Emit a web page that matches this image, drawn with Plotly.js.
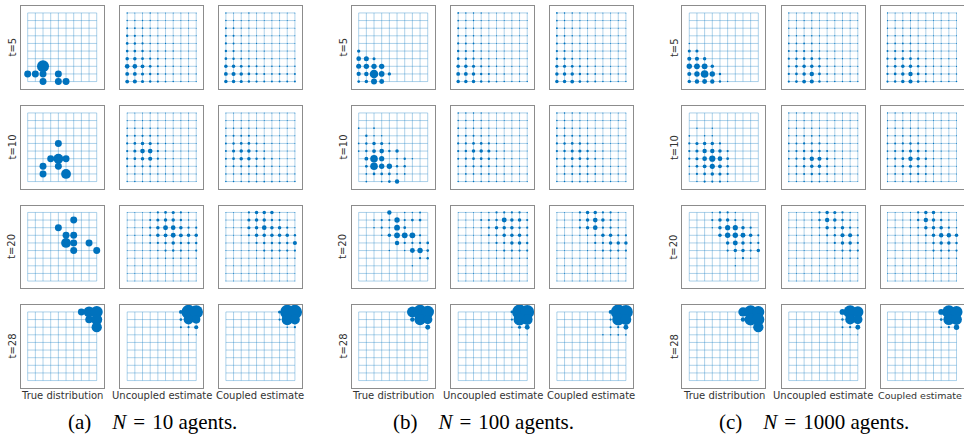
<!DOCTYPE html>
<html><head><meta charset="utf-8">
<script src="https://cdn.plot.ly/plotly-3.0.1.min.js"></script>
<style>html,body{margin:0;padding:0;background:#fff}#chart{width:964px;height:436px}</style>
</head><body><div id="chart"></div>
<script>
// lattice coordinates
const gridVals = [0,1,2,3,4,5,6,7,8,9];
const rowLabels = ["t=5","t=10","t=20","t=28"];
const colLabels = ["True distribution","Uncoupled estimate","Coupled estimate"];
const captionTags = ["(a)","(b)","(c)"];
const agentCounts = [10, 100, 1000];

// Each matrix: rows y=9 (top) ... y=0 (bottom); columns x=0..9; value = probability mass in percent
// ---------- (a) N = 10 ----------
const A_T5_TRUE = [
[0,0,0,0,0,0,0,0,0,0],[0,0,0,0,0,0,0,0,0,0],[0,0,0,0,0,0,0,0,0,0],[0,0,0,0,0,0,0,0,0,0],
[0,0,0,0,0,0,0,0,0,0],[0,0,0,0,0,0,0,0,0,0],[0,0,0,0,0,0,0,0,0,0],
[0,0,30,0,0,0,0,0,0,0],
[10,10,10,0,10,0,0,0,0,0],
[0,0,10,0,10,10,0,0,0,0]];
const A_T5_UNC = [
[0.4,0.2,0.2,0.4,0.2,0.2,0.2,0.2,0.2,0.2],
[0.5,0.4,0.4,0.4,0.2,0.2,0.2,0.2,0.2,0.2],
[0.8,0.6,0.6,0.4,0.3,0.2,0.2,0.2,0.2,0.2],
[1.2,1.0,0.6,0.4,0.3,0.3,0.2,0.2,0.2,0.2],
[1.5,1.2,1.0,0.5,0.4,0.3,0.3,0.2,0.2,0.2],
[1.5,1.5,1.2,0.6,0.5,0.5,0.4,0.2,0.2,0.2],
[2.5,2.5,1.5,1.0,0.6,0.4,0.3,0.3,0.2,0.2],
[4.5,4.5,3.0,1.5,0.8,0.5,0.4,0.3,0.3,0.2],
[3.0,3.0,2.0,1.2,0.8,0.5,0.4,0.3,0.3,0.3],
[3.0,3.5,2.0,1.2,1.0,0.6,0.5,0.4,0.3,0.3]];
const A_T5_CPL = [
[0.4,0.2,0.2,0.4,0.2,0.2,0.2,0.2,0.2,0.2],
[0.5,0.4,0.3,0.3,0.2,0.2,0.2,0.2,0.2,0.2],
[0.8,0.6,0.3,0.3,0.2,0.2,0.2,0.2,0.2,0.2],
[1.0,0.8,0.4,0.3,0.2,0.2,0.2,0.2,0.2,0.2],
[1.0,0.8,0.4,0.3,0.3,0.2,0.2,0.2,0.2,0.2],
[1.2,1.0,0.5,0.4,0.3,0.3,0.2,0.2,0.2,0.2],
[1.5,1.2,0.6,0.5,0.4,0.3,0.3,0.2,0.2,0.3],
[2.5,2.5,1.5,1.0,0.8,0.5,0.5,0.4,0.4,0.5],
[3.0,3.5,2.5,1.5,1.0,0.8,0.6,0.8,0.6,0.8],
[2.5,2.5,2.0,1.2,1.0,0.8,0.8,0.8,0.8,0.8]];
const A_T10_TRUE = [
[0,0,0,0,0,0,0,0,0,0],[0,0,0,0,0,0,0,0,0,0],[0,0,0,0,0,0,0,0,0,0],[0,0,0,0,0,0,0,0,0,0],
[0,0,0,0,10,0,0,0,0,0],
[0,0,0,0,0,0,0,0,0,0],
[0,0,0,10,20,10,0,0,0,0],
[0,0,10,0,10,0,0,0,0,0],
[0,0,10,0,0,20,0,0,0,0],
[0,0,0,0,0,0,0,0,0,0]];
const A_T10_UNC = [
[0.2,0.2,0.2,0.3,0.2,0.2,0.2,0.2,0.2,0.2],
[0.3,0.3,0.3,0.3,0.2,0.2,0.2,0.2,0.2,0.2],
[0.5,0.5,0.5,0.5,0.3,0.2,0.2,0.2,0.2,0.2],
[0.8,0.8,1.0,0.8,0.5,0.3,0.2,0.2,0.2,0.2],
[1.0,1.5,2.5,2.0,0.8,0.4,0.3,0.2,0.2,0.2],
[1.0,2.0,4.5,4.5,1.0,0.5,0.3,0.2,0.2,0.2],
[1.0,1.5,2.5,3.5,1.0,0.5,0.3,0.2,0.2,0.2],
[0.8,0.8,1.0,1.0,0.6,0.4,0.3,0.2,0.2,0.2],
[0.4,0.4,0.5,0.5,0.4,0.3,0.3,0.2,0.2,0.2],
[0.4,0.4,0.4,0.4,0.4,0.3,0.3,0.3,0.2,0.2]];
const A_T10_CPL = [
[0.2,0.2,0.2,0.2,0.2,0.2,0.2,0.2,0.2,0.2],
[0.3,0.3,0.3,0.3,0.2,0.2,0.2,0.2,0.2,0.2],
[0.5,0.5,0.5,0.4,0.3,0.2,0.2,0.2,0.2,0.2],
[0.6,0.8,0.8,0.8,0.4,0.3,0.2,0.2,0.2,0.2],
[0.8,1.2,1.5,1.5,0.8,0.5,0.3,0.2,0.2,0.2],
[0.8,2.0,2.5,2.5,1.0,0.6,0.3,0.2,0.2,0.2],
[0.8,1.5,2.5,2.5,1.2,1.0,0.6,0.3,0.2,0.2],
[0.6,0.8,1.0,1.0,0.8,0.6,0.5,0.3,0.3,0.2],
[0.5,0.5,0.6,0.6,0.6,0.5,0.4,0.4,0.3,0.3],
[0.5,0.5,0.5,0.6,0.6,0.6,0.6,0.5,0.5,0.5]];
const A_T20_TRUE = [
[0,0,0,0,0,0,0,0,0,0],
[0,0,0,0,0,0,10,0,0,0],
[0,0,0,0,10,0,0,0,0,0],
[0,0,0,0,0,10,10,0,0,0],
[0,0,0,0,0,20,10,0,10,0],
[0,0,0,0,0,0,10,0,0,10],
[0,0,0,0,0,0,0,0,0,0],[0,0,0,0,0,0,0,0,0,0],[0,0,0,0,0,0,0,0,0,0],[0,0,0,0,0,0,0,0,0,0]];
const A_T20_UNC = [
[0.2,0.2,0.2,0.4,1.0,1.5,2.0,1.0,0.4,0.2],
[0.2,0.2,0.2,0.8,2.0,2.5,2.5,1.2,0.4,0.3],
[0.2,0.2,0.3,1.0,2.5,5.0,4.5,2.5,1.0,1.0],
[0.3,0.3,0.3,1.0,2.5,3.0,5.0,3.0,2.5,2.5],
[0.2,0.2,0.2,0.6,1.0,1.2,2.5,1.2,1.2,1.2],
[0.2,0.2,0.2,0.3,0.5,1.0,1.2,1.0,0.5,1.0],
[0.2,0.2,0.2,0.2,0.3,0.4,0.5,0.5,0.4,0.4],
[0.2,0.2,0.2,0.2,0.2,0.2,0.2,0.2,0.2,0.2],
[0.2,0.2,0.2,0.2,0.2,0.2,0.2,0.2,0.2,0.2],
[0.2,0.2,0.2,0.2,0.2,0.2,0.2,0.2,0.2,0.2]];
const A_T20_CPL = [
[0.2,0.2,0.2,1.0,2.5,2.5,2.5,0.4,0.2,0.2],
[0.2,0.2,0.2,2.0,2.5,2.5,1.2,1.0,0.3,0.2],
[0.2,0.2,0.3,2.0,2.5,4.5,2.5,2.5,1.0,0.3],
[0.2,0.2,0.3,1.0,2.5,2.5,2.5,2.5,2.5,1.2],
[0.2,0.2,0.2,0.4,1.0,1.2,1.2,1.2,1.2,3.5],
[0.2,0.2,0.2,0.3,0.4,1.0,1.0,1.0,1.0,1.0],
[0.2,0.2,0.2,0.2,0.3,0.5,0.5,0.4,0.4,0.4],
[0.2,0.2,0.2,0.2,0.2,0.2,0.2,0.2,0.2,0.2],
[0.2,0.2,0.2,0.2,0.2,0.2,0.2,0.2,0.2,0.2],
[0.2,0.2,0.2,0.2,0.2,0.2,0.2,0.2,0.2,0.2]];
const A_T28_TRUE = [
[0,0,0,0,0,0,0,10,25,30],
[0,0,0,0,0,0,0,0,12,25],
[0,0,0,0,0,0,0,0,0,22],
[0,0,0,0,0,0,0,0,0,0],[0,0,0,0,0,0,0,0,0,0],[0,0,0,0,0,0,0,0,0,0],[0,0,0,0,0,0,0,0,0,0],
[0,0,0,0,0,0,0,0,0,0],[0,0,0,0,0,0,0,0,0,0],[0,0,0,0,0,0,0,0,0,0]];
const A_T28_UNC = [
[0,0,0,0,0,0,0,3,42,38],
[0,0,0,0,0,0,0,1.5,20,14],
[0,0,0,0,0,0,0,0.8,1,3.5],
[0,0,0,0,0,0,0,0,0.3,0.3],
[0,0,0,0,0,0,0,0,0,0],[0,0,0,0,0,0,0,0,0,0],[0,0,0,0,0,0,0,0,0,0],
[0,0,0,0,0,0,0,0,0,0],[0,0,0,0,0,0,0,0,0,0],[0,0,0,0,0,0,0,0,0,0]];
const A_T28_CPL = [
[0,0,0,0,0,0,0,2,42,42],
[0,0,0,0,0,0,0,1,26,20],
[0,0,0,0,0,0,0,0,0.5,1],
[0,0,0,0,0,0,0,0,0,0],[0,0,0,0,0,0,0,0,0,0],[0,0,0,0,0,0,0,0,0,0],[0,0,0,0,0,0,0,0,0,0],
[0,0,0,0,0,0,0,0,0,0],[0,0,0,0,0,0,0,0,0,0],[0,0,0,0,0,0,0,0,0,0]];

// ---------- (b) N = 100 ----------
const B_T5_TRUE = [
[0,0,0,0,0,0,0,0,0,0],[0,0,0,0,0,0,0,0,0,0],[0,0,0,0,0,0,0,0,0,0],[0,0,0,0,0,0,0,0,0,0],
[0,0,0,0,0,0,0,0,0,0],
[2.3,0,0,0,0,0,0,0,0,0],
[4.5,5.2,1.9,0,0,0,0,0,0,0],
[5.2,5.9,5.9,5.9,0,0,0,0,0,0],
[3.8,4.0,15,6.6,2.3,0,0,0,0,0],
[1.5,2.5,7.4,5.0,0,0,0,0,0,0]];
const B_T5_UNC = [
[0.6,0.4,0.4,0.4,0.2,0.2,0.2,0.2,0.2,0.2],
[0.6,0.4,0.4,0.3,0.2,0.2,0.2,0.2,0.2,0.2],
[0.8,0.5,0.4,0.3,0.2,0.2,0.2,0.2,0.2,0.2],
[0.8,0.6,0.5,0.4,0.2,0.2,0.2,0.2,0.2,0.2],
[1.0,0.8,0.6,0.5,0.3,0.2,0.2,0.2,0.2,0.2],
[1.2,1.0,0.8,0.5,0.3,0.3,0.2,0.2,0.2,0.2],
[1.5,1.2,1.0,0.6,0.4,0.3,0.3,0.2,0.2,0.2],
[2.5,2.5,2.0,1.0,0.6,0.4,0.3,0.3,0.2,0.2],
[3.0,3.0,2.5,1.2,0.8,0.5,0.4,0.3,0.3,0.3],
[2.5,2.5,2.5,1.2,1.0,0.6,0.5,0.4,0.4,0.4]];
const B_T5_CPL = [
[0.6,0.4,0.4,0.3,0.2,0.2,0.2,0.2,0.2,0.2],
[0.6,0.4,0.3,0.3,0.2,0.2,0.2,0.2,0.2,0.2],
[0.7,0.5,0.4,0.3,0.2,0.2,0.2,0.2,0.2,0.2],
[0.8,0.6,0.4,0.3,0.2,0.2,0.2,0.2,0.2,0.2],
[0.9,0.7,0.5,0.4,0.3,0.2,0.2,0.2,0.2,0.2],
[1.0,0.9,0.6,0.4,0.3,0.2,0.2,0.2,0.2,0.2],
[1.2,1.2,0.8,0.5,0.4,0.3,0.2,0.2,0.2,0.2],
[2.0,2.0,1.5,1.0,0.6,0.4,0.3,0.3,0.2,0.2],
[2.5,2.5,2.5,1.2,0.8,0.6,0.4,0.4,0.3,0.3],
[2.5,2.5,3.0,1.5,1.0,0.8,0.5,0.5,0.4,0.4]];
const B_T10_TRUE = [
[0,0,0,0,0,0,0,0,0,0],
[0,0,0,0,0,0,0,0,0,0],
[0.6,0,0.6,0,0,0,0,0,0,0],
[0,1.2,0.5,0.5,0,0,0,0,0,0],
[0.6,1.2,2.5,2.0,0.6,0,0,0,0,0],
[0.6,1.2,3.0,4.5,1.2,2.5,0,0,0,0],
[0,3.0,12,5.5,0,0.6,1.2,0.5,0,0],
[0,1.5,12,6,6,1.2,1.2,0,0,0],
[0,0.6,1.5,1.5,1.5,0.6,0.6,0,0,0],
[0,0.6,0,0.6,1.5,4,0,0,0,0]];
const B_T10_UNC = [
[0.5,0.4,0.4,0.4,0.2,0.2,0.2,0.2,0.2,0.2],
[0.5,0.5,0.4,0.4,0.2,0.2,0.2,0.2,0.2,0.2],
[0.6,0.5,0.5,0.5,0.3,0.2,0.2,0.2,0.2,0.2],
[0.8,0.8,0.8,0.6,0.4,0.3,0.2,0.2,0.2,0.2],
[1.0,1.0,1.5,1.5,1.0,0.4,0.3,0.2,0.2,0.2],
[1.0,1.2,2.5,2.5,2.0,0.6,0.4,0.3,0.2,0.2],
[0.8,1.0,1.5,1.5,1.2,0.6,0.4,0.3,0.2,0.2],
[0.6,0.8,1.0,1.0,0.8,0.5,0.4,0.3,0.3,0.2],
[0.5,0.6,0.6,0.6,0.6,0.5,0.4,0.3,0.3,0.3],
[0.5,0.5,0.5,0.5,0.5,0.4,0.4,0.3,0.3,0.3]];
const B_T10_CPL = [
[0.5,0.4,0.4,0.4,0.2,0.2,0.2,0.2,0.2,0.2],
[0.5,0.5,0.4,0.3,0.2,0.2,0.2,0.2,0.2,0.2],
[0.6,0.6,0.5,0.4,0.3,0.2,0.2,0.2,0.2,0.2],
[0.8,0.8,0.8,0.6,0.4,0.3,0.2,0.2,0.2,0.2],
[1.0,1.2,1.5,1.2,0.8,0.4,0.3,0.2,0.2,0.2],
[1.0,1.2,2.0,2.0,1.2,0.6,0.4,0.2,0.2,0.2],
[0.8,1.0,1.5,1.5,1.2,0.8,0.4,0.3,0.2,0.2],
[0.6,0.8,1.0,1.0,1.0,0.6,0.4,0.3,0.3,0.2],
[0.5,0.6,0.8,0.8,0.8,0.6,0.4,0.4,0.3,0.3],
[0.5,0.5,0.6,0.6,0.6,0.5,0.4,0.4,0.3,0.3]];
const B_T20_TRUE = [
[0,0,0,0,4,0,0.5,0.5,0.8,0],
[0,0,0.5,1.0,1.0,6,1.0,1.5,1.5,0],
[0,0,0.5,1.0,0.6,7,1.5,0,0,0],
[0,0,0,0.5,2.5,7,7,7,1.0,0],
[0,0,0,0,0,4,1.0,1.0,1.0,1.5],
[0,0,0,0,0.5,0,0.5,5,6,1.5],
[0,0,0,0,0,0,0,0,1.0,1.2],
[0,0,0,0,0,0,0,0.5,0,0],
[0,0,0,0,0,0,0,0,0,0],
[0,0,0,0,0,0,0,0,0,0]];
const B_T20_UNC = [
[0.2,0.2,0.2,0.3,0.4,1.0,1.0,1.0,1.0,0.4],
[0.2,0.2,0.2,0.8,1.0,1.2,5.0,2.5,2.5,1.0],
[0.2,0.2,0.2,0.4,1.0,2.5,2.5,2.5,1.2,1.0],
[0.2,0.2,0.2,0.3,0.8,1.0,2.5,2.5,2.5,1.0],
[0.2,0.2,0.2,0.2,0.4,1.0,1.0,2.5,2.5,1.2],
[0.2,0.2,0.2,0.2,0.3,0.4,1.0,1.0,1.0,1.0],
[0.2,0.2,0.2,0.2,0.2,0.3,0.4,0.4,0.4,0.4],
[0.2,0.2,0.2,0.2,0.2,0.2,0.2,0.2,0.2,0.2],
[0.2,0.2,0.2,0.2,0.2,0.2,0.2,0.2,0.2,0.2],
[0.2,0.2,0.2,0.2,0.2,0.2,0.2,0.2,0.2,0.2]];
const B_T20_CPL = [
[0.2,0.2,0.2,1.0,2.5,2.5,1.0,1.0,0.3,0.2],
[0.2,0.2,0.2,1.0,2.5,4.5,2.5,1.0,0.4,0.2],
[0.2,0.2,0.2,1.0,2.5,4.5,1.0,1.0,0.4,0.2],
[0.2,0.2,0.2,0.3,0.4,1.0,2.5,2.5,1.0,1.0],
[0.2,0.2,0.2,0.2,0.3,1.0,1.0,2.5,2.5,2.5],
[0.2,0.2,0.2,0.2,0.3,0.4,1.0,1.0,1.0,1.0],
[0.2,0.2,0.2,0.2,0.2,0.3,0.4,0.4,0.4,0.4],
[0.2,0.2,0.2,0.2,0.2,0.2,0.2,0.2,0.2,0.2],
[0.2,0.2,0.2,0.2,0.2,0.2,0.2,0.2,0.2,0.2],
[0.2,0.2,0.2,0.2,0.2,0.2,0.2,0.2,0.2,0.2]];
const B_T28_TRUE = [
[0,0,0,0,0,0,0,24,42,32],
[0,0,0,0,0,0,0,4,26,18],
[0,0,0,0,0,0,0,0,0,5],
[0,0,0,0,0,0,0,0,0,0],[0,0,0,0,0,0,0,0,0,0],[0,0,0,0,0,0,0,0,0,0],[0,0,0,0,0,0,0,0,0,0],
[0,0,0,0,0,0,0,0,0,0],[0,0,0,0,0,0,0,0,0,0],[0,0,0,0,0,0,0,0,0,0]];
const B_T28_UNC = [
[0,0,0,0,0,0,0,1.5,46,40],
[0,0,0,0,0,0,0,1,30,24],
[0,0,0,0,0,0,0,0.3,2,5],
[0,0,0,0,0,0,0,0,0.3,0.3],
[0,0,0,0,0,0,0,0,0,0],[0,0,0,0,0,0,0,0,0,0],[0,0,0,0,0,0,0,0,0,0],
[0,0,0,0,0,0,0,0,0,0],[0,0,0,0,0,0,0,0,0,0],[0,0,0,0,0,0,0,0,0,0]];
const B_T28_CPL = [
[0,0,0,0,0,0,0,3,46,40],
[0,0,0,0,0,0,0,1,30,24],
[0,0,0,0,0,0,0,0.8,1,5],
[0,0,0,0,0,0,0.5,0.5,0.6,0.6],
[0,0,0,0,0,0,0,0,0,0],[0,0,0,0,0,0,0,0,0,0],[0,0,0,0,0,0,0,0,0,0],
[0,0,0,0,0,0,0,0,0,0],[0,0,0,0,0,0,0,0,0,0],[0,0,0,0,0,0,0,0,0,0]];

// ---------- (c) N = 1000 ----------
const C_T5_TRUE = [
[0,0,0,0,0,0,0,0,0,0],[0,0,0,0,0,0,0,0,0,0],[0,0,0,0,0,0,0,0,0,0],[0,0,0,0,0,0,0,0,0,0],
[0.5,0,0,0,0,0,0,0,0,0],
[2.0,2.0,0,0,0,0,0,0,0,0],
[3.5,3.5,2.5,0,0,0,0,0,0,0],
[6,7,7,2.5,0,0,0,0,0,0],
[3.5,6,12,6,1.2,0,0,0,0,0],
[2.5,4,5,4,1.2,0.4,0,0,0,0]];
const C_T5_UNC = [
[0.3,0.2,0.2,0.3,0.2,0.2,0.2,0.2,0.2,0.2],
[0.3,0.3,0.3,0.3,0.2,0.2,0.2,0.2,0.2,0.2],
[0.4,0.3,0.3,0.3,0.2,0.2,0.2,0.2,0.2,0.2],
[0.5,0.4,0.4,0.4,0.3,0.2,0.2,0.2,0.2,0.2],
[0.6,0.6,0.6,0.6,0.3,0.3,0.2,0.2,0.2,0.2],
[0.8,1.0,1.0,1.0,0.5,0.3,0.3,0.2,0.2,0.2],
[1.0,1.2,1.5,1.5,1.0,0.4,0.3,0.3,0.2,0.2],
[1.0,1.5,2.5,2.5,1.2,0.5,0.4,0.3,0.3,0.3],
[1.0,1.5,2.5,4.0,1.5,0.6,0.4,0.4,0.3,0.3],
[1.0,1.5,3.0,3.5,1.2,0.6,0.5,0.4,0.4,0.4]];
const C_T5_CPL = [
[0.3,0.2,0.2,0.3,0.2,0.2,0.2,0.2,0.2,0.2],
[0.3,0.3,0.3,0.3,0.2,0.2,0.2,0.2,0.2,0.2],
[0.4,0.3,0.3,0.3,0.2,0.2,0.2,0.2,0.2,0.2],
[0.5,0.4,0.4,0.4,0.3,0.2,0.2,0.2,0.2,0.2],
[0.6,0.6,0.6,0.6,0.3,0.3,0.2,0.2,0.2,0.2],
[0.8,1.0,1.0,1.0,0.5,0.3,0.3,0.2,0.2,0.2],
[1.0,1.2,1.5,1.5,1.0,0.4,0.3,0.3,0.3,0.3],
[1.0,1.5,2.5,2.5,1.2,0.6,0.4,0.4,0.3,0.3],
[1.0,1.5,2.5,4.0,1.5,0.8,0.5,0.5,0.4,0.4],
[1.0,1.2,2.5,3.5,1.5,0.8,0.6,0.5,0.5,0.5]];
const C_T10_TRUE = [
[0,0,0,0,0,0,0,0,0,0],
[0,0,0,0,0,0,0,0,0,0],
[0,0.4,0,0.4,0,0,0,0,0,0],
[0.6,0,0.5,0.5,0,0,0,0,0,0],
[1.0,2.0,2.5,2.5,1.0,0,0,0,0,0],
[1.0,2.0,4.0,4.0,2.5,1.0,0,0,0,0],
[1.0,2.0,4.5,8,4.5,1.5,0,0,0,0],
[0.6,1.5,3.0,5.5,3.0,1.2,0,0,0,0],
[0.4,1.0,1.5,2.5,2.0,1.0,0,0,0,0],
[0,0.4,1.0,1.0,1.0,0.4,0,0,0,0]];
const C_T10_UNC = [
[0.3,0.3,0.3,0.3,0.2,0.2,0.2,0.2,0.2,0.2],
[0.3,0.3,0.3,0.3,0.2,0.2,0.2,0.2,0.2,0.2],
[0.4,0.4,0.4,0.4,0.3,0.2,0.2,0.2,0.2,0.2],
[0.5,0.5,0.6,0.6,0.5,0.3,0.2,0.2,0.2,0.2],
[0.6,0.8,1.0,1.0,1.0,0.5,0.3,0.2,0.2,0.2],
[0.6,1.0,1.2,1.5,1.2,0.8,0.4,0.3,0.2,0.2],
[0.6,1.0,1.5,4.0,3.5,1.2,0.5,0.3,0.2,0.2],
[0.5,0.8,1.2,2.5,2.5,1.0,0.5,0.3,0.2,0.2],
[0.4,0.6,0.8,1.2,1.0,0.8,0.4,0.3,0.2,0.2],
[0.3,0.4,0.5,0.6,0.6,0.5,0.4,0.3,0.2,0.2]];
const C_T10_CPL = [
[0.3,0.3,0.3,0.3,0.2,0.2,0.2,0.2,0.2,0.2],
[0.3,0.3,0.3,0.3,0.2,0.2,0.2,0.2,0.2,0.2],
[0.4,0.4,0.4,0.4,0.3,0.2,0.2,0.2,0.2,0.2],
[0.5,0.5,0.6,0.6,0.5,0.3,0.2,0.2,0.2,0.2],
[0.6,0.8,1.0,1.2,1.0,0.5,0.3,0.2,0.2,0.2],
[0.6,1.0,1.2,2.0,1.5,0.8,0.4,0.3,0.2,0.2],
[0.6,1.0,1.5,4.0,2.5,1.2,0.5,0.3,0.2,0.2],
[0.5,0.8,1.2,2.0,1.5,1.0,0.5,0.3,0.2,0.2],
[0.4,0.6,0.8,1.0,1.0,0.8,0.4,0.3,0.2,0.2],
[0.3,0.4,0.5,0.6,0.6,0.5,0.4,0.3,0.2,0.2]];
const C_T20_TRUE = [
[0,0,0,0.4,1.0,1.0,0.4,0,0,0],
[0,0,0,1.0,2.5,2.5,1.0,0.4,0,0],
[0,0,0,0.4,2.5,5.5,5.5,2.5,1.0,0],
[0,0,0,0,2.5,6,6,5,2.5,1.0],
[0,0,0,0,0,2.5,5,2.5,1.0,1.0],
[0,0,0,0,0,1.0,2.5,2.5,1.0,2.5],
[0,0,0,0,0,0,0.4,1.0,0.4,0],
[0,0,0,0,0,0,0.4,0,0,0],
[0,0,0,0,0,0,0,0,0,0],
[0,0,0,0,0,0,0,0,0,0]];
const C_T20_UNC = [
[0.2,0.2,0.2,0.3,1.0,2.5,2.0,1.0,0.4,0.2],
[0.2,0.2,0.2,0.4,1.2,4.0,2.5,1.2,0.6,0.3],
[0.2,0.2,0.2,0.3,0.6,2.5,1.2,2.5,1.0,0.4],
[0.2,0.2,0.2,0.3,0.4,1.0,1.2,3.5,3.5,1.0],
[0.2,0.2,0.2,0.2,0.3,0.4,1.0,2.5,2.5,1.0],
[0.2,0.2,0.2,0.2,0.2,0.3,0.5,1.0,1.0,1.0],
[0.2,0.2,0.2,0.2,0.2,0.2,0.3,0.4,0.4,0.4],
[0.2,0.2,0.2,0.2,0.2,0.2,0.2,0.2,0.2,0.2],
[0.2,0.2,0.2,0.2,0.2,0.2,0.2,0.2,0.2,0.2],
[0.2,0.2,0.2,0.2,0.2,0.2,0.2,0.2,0.2,0.2]];
const C_T20_CPL = [
[0.2,0.2,0.2,0.3,1.0,2.5,2.5,0.6,0.3,0.2],
[0.2,0.2,0.2,0.4,1.2,4.0,2.5,1.2,0.5,0.3],
[0.2,0.2,0.2,0.3,0.6,2.5,2.5,2.5,1.0,0.4],
[0.2,0.2,0.2,0.3,0.4,1.0,2.5,4.0,4.0,2.5],
[0.2,0.2,0.2,0.2,0.3,0.4,1.2,2.5,2.5,1.2],
[0.2,0.2,0.2,0.2,0.2,0.3,1.0,1.0,1.0,1.0],
[0.2,0.2,0.2,0.2,0.2,0.2,0.3,0.4,0.4,0.4],
[0.2,0.2,0.2,0.2,0.2,0.2,0.2,0.2,0.2,0.2],
[0.2,0.2,0.2,0.2,0.2,0.2,0.2,0.2,0.2,0.2],
[0.2,0.2,0.2,0.2,0.2,0.2,0.2,0.2,0.2,0.2]];
const C_T28_TRUE = [
[0,0,0,0,0,0,0,18,36,30],
[0,0,0,0,0,0,0,4,30,30],
[0,0,0,0,0,0,0,0,0,22],
[0,0,0,0,0,0,0,0,0,0],[0,0,0,0,0,0,0,0,0,0],[0,0,0,0,0,0,0,0,0,0],[0,0,0,0,0,0,0,0,0,0],
[0,0,0,0,0,0,0,0,0,0],[0,0,0,0,0,0,0,0,0,0],[0,0,0,0,0,0,0,0,0,0]];
const C_T28_UNC = [
[0,0,0,0,0,0,0,7,36,26],
[0,0,0,0,0,0,0,1.2,20,18],
[0,0,0,0,0,0,0,0.8,1.0,5],
[0,0,0,0,0,0,0,0.2,0.2,0.3],
[0,0,0,0,0,0,0,0,0,0],[0,0,0,0,0,0,0,0,0,0],[0,0,0,0,0,0,0,0,0,0],
[0,0,0,0,0,0,0,0,0,0],[0,0,0,0,0,0,0,0,0,0],[0,0,0,0,0,0,0,0,0,0]];
const C_T28_CPL = [
[0,0,0,0,0,0,0,7,36,30],
[0,0,0,0,0,0,0,1.5,25,24],
[0,0,0,0,0,0,0,0.5,1.0,6],
[0,0,0,0,0,0,0,0,0,0],[0,0,0,0,0,0,0,0,0,0],[0,0,0,0,0,0,0,0,0,0],[0,0,0,0,0,0,0,0,0,0],
[0,0,0,0,0,0,0,0,0,0],[0,0,0,0,0,0,0,0,0,0],[0,0,0,0,0,0,0,0,0,0]];

const panels = [
  [[A_T5_TRUE,A_T5_UNC,A_T5_CPL],[A_T10_TRUE,A_T10_UNC,A_T10_CPL],[A_T20_TRUE,A_T20_UNC,A_T20_CPL],[A_T28_TRUE,A_T28_UNC,A_T28_CPL]],
  [[B_T5_TRUE,B_T5_UNC,B_T5_CPL],[B_T10_TRUE,B_T10_UNC,B_T10_CPL],[B_T20_TRUE,B_T20_UNC,B_T20_CPL],[B_T28_TRUE,B_T28_UNC,B_T28_CPL]],
  [[C_T5_TRUE,C_T5_UNC,C_T5_CPL],[C_T10_TRUE,C_T10_UNC,C_T10_CPL],[C_T20_TRUE,C_T20_UNC,C_T20_CPL],[C_T28_TRUE,C_T28_UNC,C_T28_CPL]]
];

// ---------- layout geometry (pixels) ----------
const W = 964, H = 436;
const groupLeft = [20.7, 351.7, 682.3];
const colOff = [0, 99.5, 198.2];
const rowTop = [6, 106, 205.5, 305];
const PW = 83, PH = 82.5;
const MARK = '#0072BD';
const GRIDC = 'rgba(0,114,189,0.32)';
const FRAME = '#8c8c8c';

const traces = [];
const layout = {
  width: W, height: H, margin: {l:0,r:0,t:0,b:0},
  paper_bgcolor: '#fff', plot_bgcolor: '#fff', showlegend: false,
  annotations: []
};

// grid lattice polyline built from gridVals
const g0 = gridVals[0], g1 = gridVals[gridVals.length-1];
const gx = [], gy = [];
gridVals.forEach(v => { gx.push(v, v, null); gy.push(g0, g1, null); });
gridVals.forEach(v => { gx.push(g0, g1, null); gy.push(v, v, null); });

let n = 0;
for (let g = 0; g < 3; g++) {
  for (let r = 0; r < 4; r++) {
    for (let c = 0; c < 3; c++) {
      n++;
      const sx = n === 1 ? '' : String(n);
      const left = groupLeft[g] + colOff[c];
      const top = rowTop[r];
      layout['xaxis' + sx] = {
        domain: [left / W, Math.min(1, (left + PW) / W)],
        range: [-0.91, 9.91], showgrid: false, zeroline: false, showticklabels: false,
        ticks: '', showline: true, mirror: true, linecolor: FRAME, linewidth: 1,
        anchor: 'y' + sx, fixedrange: true
      };
      layout['yaxis' + sx] = {
        domain: [1 - (top + PH) / H, 1 - top / H],
        range: [-0.91, 9.91], showgrid: false, zeroline: false, showticklabels: false,
        ticks: '', showline: true, mirror: true, linecolor: FRAME, linewidth: 1,
        anchor: 'x' + sx, fixedrange: true
      };

      traces.push({
        type: 'scatter', mode: 'lines', x: gx, y: gy,
        xaxis: 'x' + sx, yaxis: 'y' + sx,
        line: {color: GRIDC, width: 1}, hoverinfo: 'skip', cliponaxis: false
      });

      const M = panels[g][r][c];
      const px = [], py = [], ps = [];
      M.forEach((row, i) => {
        const yv = gridVals[gridVals.length - 1 - i];
        row.forEach((val, j) => {
          if (val > 0) { px.push(gridVals[j]); py.push(yv); ps.push(2.2 * Math.sqrt(val)); }
        });
      });
      traces.push({
        type: 'scatter', mode: 'markers', x: px, y: py,
        xaxis: 'x' + sx, yaxis: 'y' + sx, cliponaxis: false,
        marker: {color: MARK, size: ps, sizemode: 'diameter', line: {width: 0}, opacity: 1},
        hoverinfo: 'skip'
      });
    }
    layout.annotations.push({
      xref: 'paper', yref: 'paper', showarrow: false,
      x: (groupLeft[g] - 8.5) / W, y: 1 - (rowTop[r] + PH / 2) / H,
      xanchor: 'center', yanchor: 'middle', textangle: -90,
      text: rowLabels[r], font: {family: 'DejaVu Sans', size: 10, color: '#333'}
    });
  }
  for (let c = 0; c < 3; c++) {
    const last = (g === 2 && c === 2);
    layout.annotations.push({
      xref: 'paper', yref: 'paper', showarrow: false,
      x: last ? 1 : (groupLeft[g] + colOff[c] + PW / 2) / W, y: 1 - 395.5 / H,
      xanchor: last ? 'right' : 'center', yanchor: 'middle',
      text: colLabels[c], font: {family: 'DejaVu Sans', size: last ? 9.5 : 10, color: '#333'}
    });
  }
  const gCenter = (groupLeft[g] + groupLeft[g] + colOff[2] + PW) / 2 - 9;
  layout.annotations.push({
    xref: 'paper', yref: 'paper', showarrow: false,
    x: gCenter / W, y: 0, xanchor: 'center', yanchor: 'bottom',
    text: captionTags[g] + '\u2003<i>N</i>\u2004=\u2004' + agentCounts[g] + ' agents.',
    font: {family: 'Liberation Serif', size: 21, color: '#000'}
  });
}

Plotly.newPlot('chart', traces, layout, {staticPlot: true, displayModeBar: false});
</script>
</body></html>
